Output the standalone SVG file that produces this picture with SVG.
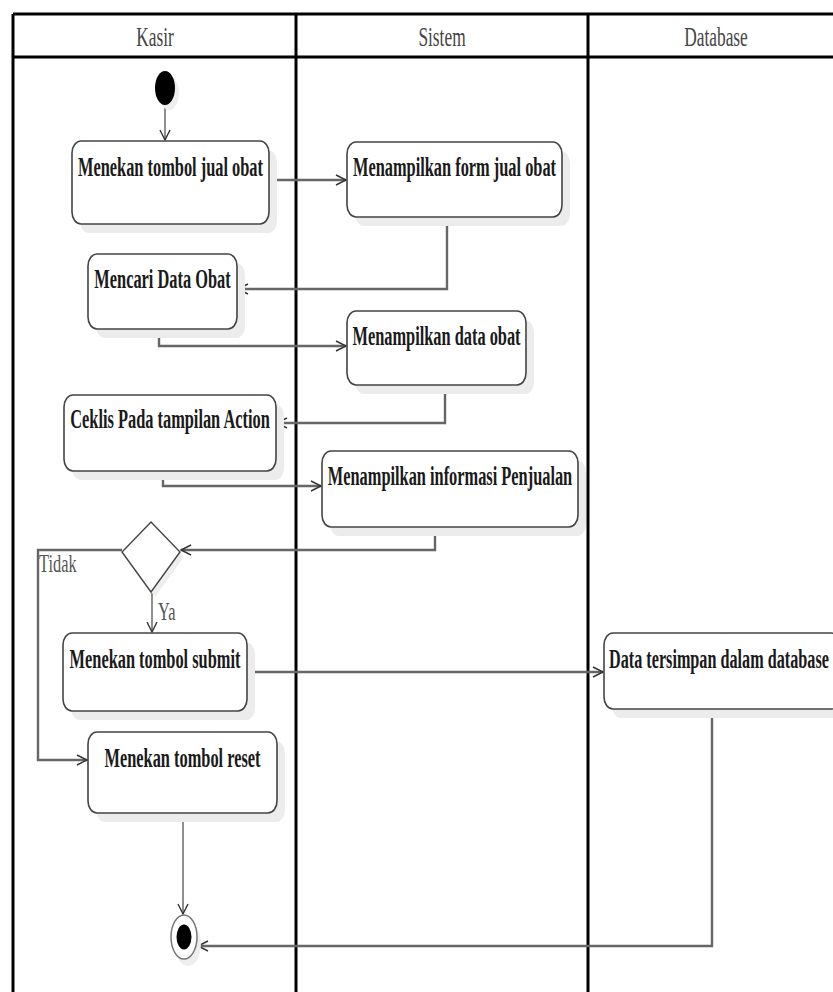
<svg xmlns="http://www.w3.org/2000/svg" width="833" height="992" viewBox="0 0 833 992">
  <style>
    .lane { stroke: #000; stroke-width: 3; fill: none; }
    .hdr { font-family: "Liberation Serif", serif; font-size: 28px; fill: #444; }
    .lbl { font-family: "Liberation Serif", serif; font-size: 26px; fill: #555; }
    .act { fill: #fff; stroke: #444; stroke-width: 1.6; }
    .shadow { fill: #ececec; stroke: none; }
    .txt { font-family: "Liberation Serif", serif; font-size: 27px; font-weight: bold; fill: #1a1a1a; }
    .flow { fill: none; stroke: #666; stroke-width: 2.4; }
    .thin { fill: none; stroke: #333; stroke-width: 1.1; }
  </style>
  <defs>
    <marker id="open" markerUnits="userSpaceOnUse" markerWidth="14" markerHeight="14" refX="11" refY="6" orient="auto">
      <path d="M1,1 L11,6 L1,11" fill="none" stroke="#333" stroke-width="1.4"/>
    </marker>
  </defs>

  <rect x="0" y="0" width="833" height="992" fill="#fff"/>

  <!-- swimlanes -->
  <g id="swimlanes">
    <line class="lane" x1="13" y1="14" x2="844" y2="14"/>
    <line class="lane" x1="13" y1="57" x2="844" y2="57"/>
    <line class="lane" x1="13" y1="14" x2="13" y2="992"/>
    <line class="lane" x1="296" y1="14" x2="296" y2="992"/>
    <line class="lane" x1="588" y1="14" x2="588" y2="992"/>
    <line class="lane" x1="844" y1="14" x2="844" y2="992"/>
    <text class="hdr" text-anchor="middle" transform="translate(155,46) scale(0.62,1)">Kasir</text>
    <text class="hdr" text-anchor="middle" transform="translate(442,46) scale(0.62,1)">Sistem</text>
    <text class="hdr" text-anchor="middle" transform="translate(716,46) scale(0.62,1)">Database</text>
  </g>

  <!-- connectors -->
  <g id="connectors">
    <path class="thin" d="M165,105 L165,140" marker-end="url(#open)"/>
    <path class="flow" d="M269,180 L346,180" marker-end="url(#open)"/>
    <path class="flow" d="M447,217 L447,289 L238,289" marker-end="url(#open)"/>
    <path class="flow" d="M159,329 L159,346 L346,346" marker-end="url(#open)"/>
    <path class="flow" d="M445,385 L445,423 L277,423" marker-end="url(#open)"/>
    <path class="flow" d="M163,471 L163,486 L321,486" marker-end="url(#open)"/>
    <path class="flow" d="M435,527 L435,550 L181,550" marker-end="url(#open)"/>
    <path class="flow" d="M122,550 L38,550 L38,760 L87,760" marker-end="url(#open)"/>
    <path class="thin" d="M152,592 L152,632" marker-end="url(#open)"/>
    <path class="flow" d="M247,672 L603,672" marker-end="url(#open)"/>
    <path class="thin" d="M183,813 L183,914" marker-end="url(#open)"/>
    <path class="flow" d="M712,709 L712,946 L198,946" marker-end="url(#open)"/>
    <text class="lbl" transform="translate(39,572) scale(0.63,1)">Tidak</text>
    <text class="lbl" transform="translate(158,620) scale(0.63,1)">Ya</text>
  </g>

  <!-- initial node -->
  <g id="start">
    <ellipse cx="169" cy="93" rx="10" ry="17" fill="#eee"/>
    <ellipse cx="165" cy="88" rx="10" ry="17" fill="#000"/>
  </g>

  <g id="a1">
    <rect class="shadow" x="80" y="150" width="197" height="83" rx="9" ry="12"/>
    <rect class="act" x="72" y="141" width="197" height="83" rx="9" ry="12"/>
    <text class="txt" text-anchor="middle" transform="translate(170.5,176) scale(0.606,1)">Menekan tombol jual obat</text>
  </g>

  <g id="a2">
    <rect class="shadow" x="355" y="151" width="215" height="75" rx="9" ry="12"/>
    <rect class="act" x="347" y="142" width="215" height="75" rx="9" ry="12"/>
    <text class="txt" text-anchor="middle" transform="translate(454.5,176) scale(0.606,1)">Menampilkan form jual obat</text>
  </g>

  <g id="a3">
    <rect class="shadow" x="96" y="263" width="149" height="75" rx="9" ry="12"/>
    <rect class="act" x="88" y="254" width="149" height="75" rx="9" ry="12"/>
    <text class="txt" text-anchor="middle" transform="translate(162.5,288) scale(0.606,1)">Mencari Data Obat</text>
  </g>

  <g id="a4">
    <rect class="shadow" x="355" y="320" width="179" height="74" rx="9" ry="12"/>
    <rect class="act" x="347" y="311" width="179" height="74" rx="9" ry="12"/>
    <text class="txt" text-anchor="middle" transform="translate(436.5,345) scale(0.606,1)">Menampilkan data obat</text>
  </g>

  <g id="a5">
    <rect class="shadow" x="72" y="404" width="212" height="76" rx="9" ry="12"/>
    <rect class="act" x="64" y="395" width="212" height="76" rx="9" ry="12"/>
    <text class="txt" text-anchor="middle" transform="translate(170,428) scale(0.606,1)">Ceklis Pada tampilan Action</text>
  </g>

  <g id="a6">
    <rect class="shadow" x="330" y="460" width="256" height="76" rx="9" ry="12"/>
    <rect class="act" x="322" y="451" width="256" height="76" rx="9" ry="12"/>
    <text class="txt" text-anchor="middle" transform="translate(450,485) scale(0.606,1)">Menampilkan informasi Penjualan</text>
  </g>

  <g id="decision">
    <polygon points="155,527 184,557 155,597 126,557" fill="#eee"/>
    <polygon points="151,522 180,552 151,592 122,552" fill="#fff" stroke="#444" stroke-width="1.4"/>
  </g>

  <g id="a7">
    <rect class="shadow" x="71" y="642" width="184" height="78" rx="9" ry="12"/>
    <rect class="act" x="63" y="633" width="184" height="78" rx="9" ry="12"/>
    <text class="txt" text-anchor="middle" transform="translate(155,668) scale(0.606,1)">Menekan tombol submit</text>
  </g>

  <g id="a8">
    <rect class="shadow" x="612" y="642" width="236" height="76" rx="9" ry="12"/>
    <rect class="act" x="604" y="633" width="236" height="76" rx="9" ry="12"/>
    <text class="txt" transform="translate(609,668) scale(0.6,1)">Data tersimpan dalam database</text>
  </g>

  <g id="a9">
    <rect class="shadow" x="96" y="741" width="189" height="81" rx="9" ry="12"/>
    <rect class="act" x="88" y="732" width="189" height="81" rx="9" ry="12"/>
    <text class="txt" text-anchor="middle" transform="translate(182.5,767) scale(0.606,1)">Menekan tombol reset</text>
  </g>

  <!-- final node -->
  <g id="end">
    <ellipse cx="188" cy="944" rx="13" ry="22" fill="#eee"/>
    <ellipse cx="184" cy="937" rx="13" ry="22" fill="#fff" stroke="#777" stroke-width="1.5"/>
    <ellipse cx="184" cy="937" rx="7.5" ry="12.5" fill="#000"/>
  </g>
</svg>
